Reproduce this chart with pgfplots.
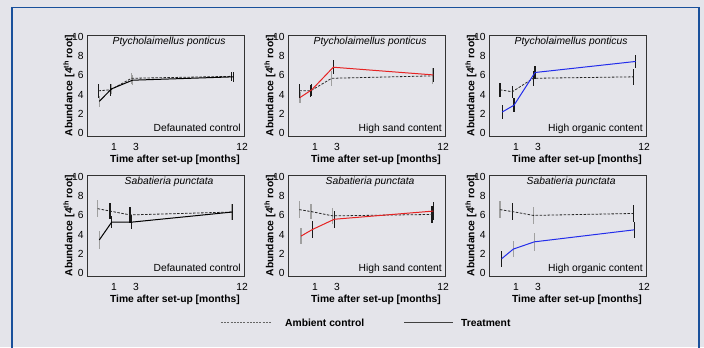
\documentclass[border=0pt]{standalone}
\usepackage{pgfplots}
\pgfplotsset{compat=1.18}
\usepackage{fontspec}
\setmainfont{Liberation Sans}
\definecolor{bg}{RGB}{228,228,234}
\definecolor{frameblue}{RGB}{25,80,155}
\definecolor{treatred}{RGB}{230,35,35}
\definecolor{treatblue}{RGB}{35,45,235}
\definecolor{bargray}{RGB}{160,160,160}
\newcommand{\fs}{\fontsize{10.3bp}{12bp}\selectfont}
\pgfplotsset{
  panel/.style={
    width=157bp, height=101bp, scale only axis,
    xmin=0, xmax=157, ymin=-0.3, ymax=10.2,
    xtick={27,49,155}, xticklabels={1,3,12},
    ytick={0,2,4,6,8,10},
    major tick length=0,
    /pgf/number format/assume math mode=true,
    axis line style={draw=black!80, line width=0.9bp},
    tick label style={font=\fs},
    xticklabel style={anchor=center, yshift=-10.5bp},
    xlabel={Time after set-up [months]},
    ylabel={Abundance [4\textsuperscript{th} root]},
    label style={font=\bfseries\fs},
    xlabel style={at={(axis description cs:0.56,-0.24)}, anchor=center},
    ylabel style={at={(axis description cs:-0.115,0.5)}, anchor=center},
    title style={at={(axis description cs:0.523,1)}, anchor=north, yshift=-4.5bp,
      font=\itshape\fs},
    clip=false,
  },
  ctrl/.style={black!85, dashed, dash pattern=on 2.5bp off 1.5bp, line width=0.8bp},
  treat/.style={line width=1bp},
  bk/.style={draw=none, mark=none, error bars/.cd, y dir=both, y explicit, error mark=none,
    error bar style={draw=black!90, solid, line width=1.2bp}},
  gy/.style={draw=none, mark=none, error bars/.cd, y dir=both, y explicit, error mark=none,
    error bar style={draw=bargray, solid, line width=1.2bp}},
}
\newcommand{\corner}[1]{\node[anchor=base east, inner sep=0pt, font=\fs] at (rel axis cs:0.98,0.04) {#1};}
\begin{document}
\begin{tikzpicture}[x=1bp,y=1bp]
\fill[bg] (0,0) rectangle (704,347);
\useasboundingbox (0,0) rectangle (704,347);
\draw[frameblue, line width=1.6bp] (12,-5) -- (12,339.5) -- (699,339.5) -- (699,-5);

% ---- Panel 1
\begin{axis}[panel, at={(87bp,312bp)}, anchor=north west, title={Ptycholaimellus ponticus}]
\addplot[gy] coordinates {(12.3,3.3) +- (0,0.6) (24.5,4.6) +- (0,0.5) (45.5,5.5) +- (0,0.5) (44.5,5.7) +- (0,0.6)};
\addplot[bk] coordinates {(11.5,4.4) +- (0,0.75) (23.5,4.5) +- (0,0.6) (144.5,5.9) +- (0,0.5) (146.5,5.85) +- (0,0.55)};
\addplot[ctrl] coordinates {(11.5,4.4) (23.5,4.5) (44.5,5.7) (144.5,5.9)};
\addplot[treat, black] coordinates {(12.3,3.3) (24.5,4.6) (45.5,5.5) (146.5,5.85)};
\corner{Defaunated control}
\end{axis}

% ---- Panel 2
\begin{axis}[panel, at={(288bp,312bp)}, anchor=north west, title={Ptycholaimellus ponticus}]
\addplot[gy] coordinates {(43.7,5.7) +- (0,0.8) (144.3,5.95) +- (0,0.8) (12,3.7) +- (0,0.6)};
\addplot[bk] coordinates {(11.3,4.4) +- (0,0.7) (22.7,4.4) +- (0,0.6) (23.7,4.5) +- (0,0.6) (45.3,6.85) +- (0,0.75) (145.3,6.05) +- (0,0.75)};
\addplot[ctrl] coordinates {(11.3,4.4) (22.7,4.4) (43.7,5.7) (144.3,5.95)};
\addplot[treat, treatred] coordinates {(12,3.7) (23.7,4.5) (45.3,6.85) (145.3,6.05)};
\corner{High sand content}
\end{axis}

% ---- Panel 3
\begin{axis}[panel, at={(489bp,312bp)}, anchor=north west, title={Ptycholaimellus ponticus}]
\addplot[bk] coordinates {(11,4.5) +- (0,0.7) (23.3,4.3) +- (0,0.6) (44.3,5.7) +- (0,0.8) (144.3,5.85) +- (0,0.8)
  (13.3,2.2) +- (0,0.7) (25,2.9) +- (0,0.7) (46,6.3) +- (0,0.7) (146.7,7.45) +- (0,0.7)};
\addplot[ctrl] coordinates {(11,4.5) (23.3,4.3) (44.3,5.7) (144.3,5.85)};
\addplot[treat, treatblue] coordinates {(13.3,2.2) (25,2.9) (46,6.3) (146.7,7.45)};
\corner{High organic content}
\end{axis}

% ---- Panel 4
\begin{axis}[panel, at={(87bp,172bp)}, anchor=north west, title={Sabatieria punctata}]
\addplot[gy] coordinates {(10.7,6.7) +- (0,0.85) (144.7,6.35) +- (0,0.8) (12.3,3.45) +- (0,0.9)};
\addplot[bk] coordinates {(23,6.45) +- (0,0.8) (43,6.05) +- (0,0.8) (24.7,5.3) +- (0,0.65) (44.7,5.3) +- (0,0.7) (145.3,6.35) +- (0,0.85)};
\addplot[ctrl] coordinates {(10.7,6.7) (23,6.45) (43,6.05) (144.7,6.35)};
\addplot[treat, black] coordinates {(12.3,3.45) (24.7,5.3) (44.7,5.3) (145.3,6.35)};
\corner{Defaunated control}
\end{axis}

% ---- Panel 5
\begin{axis}[panel, at={(288bp,172bp)}, anchor=north west, title={Sabatieria punctata}]
\addplot[gy] coordinates {(11.3,6.6) +- (0,0.85) (23,6.4) +- (0,0.8) (44.7,5.95) +- (0,0.8) (13,3.85) +- (0,0.85)};
\addplot[bk] coordinates {(144,6.1) +- (0,0.9) (24.7,4.55) +- (0,0.85) (46.3,5.6) +- (0,0.9) (145.3,6.45) +- (0,0.95)};
\addplot[ctrl] coordinates {(11.3,6.6) (23,6.4) (44.7,5.95) (144,6.1)};
\addplot[treat, treatred] coordinates {(13,3.85) (24.7,4.55) (46.3,5.6) (145.3,6.45)};
\corner{High sand content}
\end{axis}

% ---- Panel 6
\begin{axis}[panel, at={(489bp,172bp)}, anchor=north west, title={Sabatieria punctata}]
\addplot[gy] coordinates {(11,6.6) +- (0,0.85) (44.3,6.0) +- (0,0.85) (24.3,2.5) +- (0,0.85) (45.3,3.25) +- (0,0.9)};
\addplot[bk] coordinates {(23.3,6.4) +- (0,0.85) (144.3,6.2) +- (0,0.85) (12.7,1.5) +- (0,0.85) (145.3,4.5) +- (0,0.85)};
\addplot[ctrl] coordinates {(11,6.6) (23.3,6.4) (44.3,6.0) (144.3,6.2)};
\addplot[treat, treatblue] coordinates {(12.7,1.5) (24.3,2.5) (45.3,3.25) (145.3,4.5)};
\corner{High organic content}
\end{axis}

% ---- Legend
\draw[black!60, dash pattern=on 2bp off 1.2bp, line width=0.7bp] (221,24.3) -- (271,24.3);
\node[anchor=west, inner sep=0pt, font=\bfseries\fs] at (285,24.3) {Ambient control};
\draw[black!75, line width=0.8bp] (404,24.3) -- (453,24.3);
\node[anchor=west, inner sep=0pt, font=\bfseries\fs] at (461,24.3) {Treatment};
\end{tikzpicture}
\end{document}
